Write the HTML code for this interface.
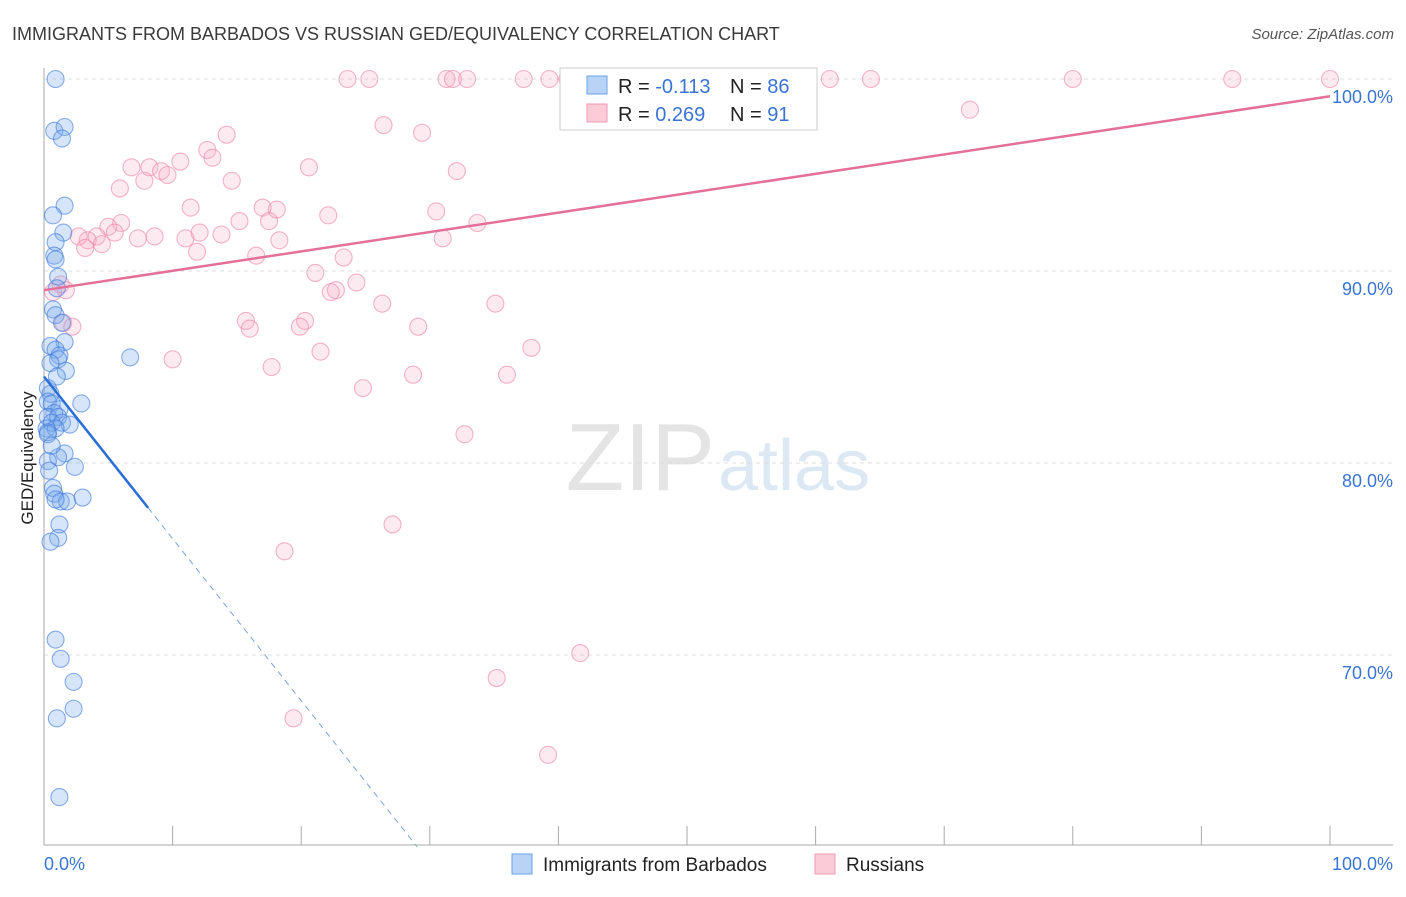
<!DOCTYPE html>
<html><head><meta charset="utf-8"><style>
body{margin:0;background:#fff;font-family:"Liberation Sans",sans-serif}
svg text{font-family:"Liberation Sans",sans-serif}
</style></head><body>
<svg id="chart" width="1406" height="892">
<text x="12" y="40" font-size="18" fill="#3a3a3a">IMMIGRANTS FROM BARBADOS VS RUSSIAN GED/EQUIVALENCY CORRELATION CHART</text>
<text x="1394" y="39" font-size="15" fill="#555" text-anchor="end" font-style="italic">Source: ZipAtlas.com</text>
<text x="0" y="0" transform="translate(33,458) rotate(-90)" font-size="17" fill="#222" text-anchor="middle">GED/Equivalency</text>
<text x="715" y="490" font-size="96" fill="#e4e4e4" text-anchor="end" font-family="Liberation Serif">ZIP</text>
<text x="718" y="490" font-size="72" fill="#dde8f5">atlas</text>
<g id="grid"></g><g id="pts"></g><g id="lines"></g>
<g>
<rect x="560" y="68" width="257" height="62" fill="#fff" stroke="#ccc"/>
<rect x="587" y="76" width="20" height="18" fill="#b8d3f5" stroke="#6aa0e6"/>
<rect x="587" y="104" width="20" height="18" fill="#fbcbd8" stroke="#ee99b4"/>
<text x="618" y="93" font-size="20" fill="#222">R = <tspan fill="#3a74d3">-0.113</tspan></text>
<text x="730" y="93" font-size="20" fill="#222">N = <tspan fill="#3a74d3">86</tspan></text>
<text x="618" y="121" font-size="20" fill="#222">R = <tspan fill="#3a74d3">0.269</tspan></text>
<text x="730" y="121" font-size="20" fill="#222">N = <tspan fill="#3a74d3"> 91</tspan></text>
</g>
<g>
<rect x="512" y="854" width="20" height="20" fill="#b8d3f5" stroke="#6aa0e6"/>
<text x="543" y="871" font-size="19" fill="#222">Immigrants from Barbados</text>
<rect x="815" y="854" width="20" height="20" fill="#fbcbd8" stroke="#ee99b4"/>
<text x="846" y="871" font-size="19" fill="#222">Russians</text>
</g>
</svg>
<script>
const yTicks=[100,90,80,70];
const yTickLabels=["100.0%","90.0%","80.0%","70.0%"];
const xTicks=[0,10,20,30,40,50,60,70,80,90,100];
const blueX=[0.9,0.8,1.6,1.4,1.6,0.7,1.5,0.9,0.8,0.9,1.1,1.0,0.7,0.9,1.4,1.6,0.5,0.9,1.2,6.7,1.1,0.5,1.7,1.0,0.3,0.5,0.3,2.9,0.6,1.2,0.8,0.3,1.1,0.6,1.4,2.0,0.2,0.9,0.3,1.6,1.1,0.3,2.4,0.4,0.7,0.8,1.3,1.8,3.0,0.9,1.2,1.1,0.5,0.9,1.3,2.3,1.0,2.3,1.2,0.3,0.6];
const blueY=[100,97.3,97.5,96.9,93.4,92.9,92.0,91.5,90.8,90.6,89.7,89.1,88.0,87.7,87.3,86.3,86.1,85.9,85.6,85.5,85.4,85.2,84.8,84.5,83.9,83.6,83.2,83.1,83.1,82.8,82.6,82.4,82.4,82.1,82.1,82.0,81.8,81.8,81.6,80.5,80.3,80.1,79.8,79.6,78.7,78.4,78.0,78.0,78.2,78.1,76.8,76.1,75.9,70.8,69.8,68.6,66.7,67.2,62.6,81.5,80.9];
const pinkX=[23.6,25.3,31.3,31.8,32.9,37.3,39.3,40.7,51.0,52.2,52.6,59.4,61.1,64.3,80.0,92.4,100,47.3,44.0,53.2,55.0,59.0,
72.0,26.4,29.4,14.2,12.7,13.1,6.8,8.2,9.1,9.6,10.6,20.6,7.8,5.9,14.6,32.1,18.1,6.0,5.0,5.5,4.1,3.4,4.5,2.7,3.2,7.3,8.6,11.4,15.2,17.0,17.5,22.1,30.5,33.7,11.0,12.1,13.8,18.3,11.9,16.5,31.0,23.3,21.1,24.3,22.7,22.3,26.3,35.1,1.7,1.3,0.7,1.5,2.2,15.7,16.0,20.3,19.9,29.1,37.9,21.5,10.0,17.7,24.8,28.7,36.0,32.7,27.1,18.7,41.7,35.2,19.4,39.2];
const pinkY=[100,100,100,100,100,100,100,100,100,100,100,100,100,100,100,100,100,100,100,100,100,100,
98.4,97.6,97.2,97.1,96.3,95.9,95.4,95.4,95.2,95.0,95.7,95.4,94.7,94.3,94.7,95.2,93.2,92.5,92.3,92.0,91.8,91.6,91.4,91.8,91.2,91.7,91.8,93.3,92.6,93.3,92.6,92.9,93.1,92.5,91.7,92.0,91.9,91.6,91.0,90.8,91.7,90.7,89.9,89.4,89.0,88.9,88.3,88.3,89.0,89.3,88.9,87.3,87.1,87.4,87.0,87.4,87.1,87.1,86.0,85.8,85.4,85.0,83.9,84.6,84.6,81.5,76.8,75.4,70.1,68.8,66.7,64.8];
const X=v=>44+v*12.86, Y=v=>79+(100-v)*19.2;
const NS="http://www.w3.org/2000/svg";
function mk(t,a,p){const e=document.createElementNS(NS,t);for(const k in a)e.setAttribute(k,a[k]);p.appendChild(e);return e;}
const grid=document.getElementById('grid');
yTicks.forEach((t,i)=>{
 const l=mk('line',{x1:44,x2:1393,y1:Y(t),y2:Y(t),stroke:'#ddd','stroke-dasharray':'4,4'},grid);
 
 
 const tx=mk('text',{x:1393,y:Y(t)+24,'font-size':18,fill:'#3a74d3','text-anchor':'end'},grid);
 tx.textContent=yTickLabels[i];
 
 
});
const ax=mk('line',{x1:44,x2:44,y1:68,y2:845,stroke:'#aaa'},grid);


const bx=mk('line',{x1:44,x2:1393,y1:845,y2:845,stroke:'#aaa'},grid);


xTicks.forEach(t=>{const l=mk('line',{x1:X(t),x2:X(t),y1:826,y2:845,stroke:'#aaa'},grid);
 
 });
[[0,"0.0%",'start',44],[100,"100.0%",'end',1393]].forEach(d=>{const t=mk('text',{x:d[3],y:870,'font-size':18,fill:'#3a74d3','text-anchor':d[2]},grid);t.textContent=d[1];
 
 });
const pts=document.getElementById('pts');
pinkX.forEach((x,i)=>{const c=mk('circle',{cx:X(x),cy:Y(pinkY[i]),r:8.5,fill:'rgba(248,170,195,0.25)',stroke:'rgba(236,130,165,0.6)','stroke-width':1.1},pts);
 
 });
blueX.forEach((x,i)=>{const c=mk('circle',{cx:X(x),cy:Y(blueY[i]),r:8.5,fill:'rgba(120,170,235,0.3)',stroke:'rgba(60,120,220,0.6)','stroke-width':1.1},pts);
 
 });
const lines=document.getElementById('lines');
const pinkI=89.0,pinkS=0.101,blueI=84.5,blueS=-0.844;
const pl=mk('line',{x1:X(0),y1:Y(pinkI),x2:X(100),y2:Y(pinkI+pinkS*100),stroke:'#e4709a','stroke-width':2.5},lines);


const bl=mk('line',{x1:X(0),y1:Y(blueI),x2:X(8.1),y2:Y(blueI+blueS*8.1),stroke:'#2a6fd6','stroke-width':2.5},lines);


const xe=(60-blueI)/blueS;
const bd=mk('line',{x1:X(8.1),y1:Y(blueI+blueS*8.1),x2:X(xe),y2:Y(60),stroke:'#7aa3e0','stroke-width':1,'stroke-dasharray':'6,5'},lines);


</script>
</body></html>
